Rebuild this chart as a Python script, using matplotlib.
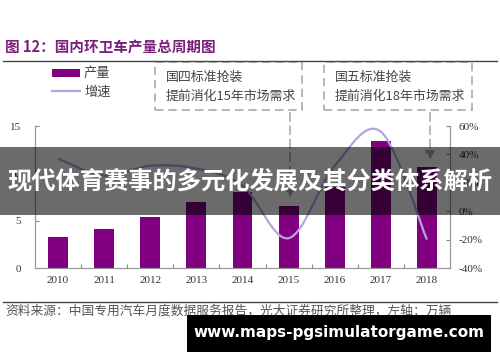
import matplotlib
matplotlib.use("Agg")
import matplotlib.pyplot as plt
from matplotlib.patches import Rectangle, FancyArrowPatch
from matplotlib.path import Path
from matplotlib.patches import PathPatch

years = ["2010", "2011", "2012", "2013", "2014", "2015", "2016", "2017", "2018"]
output = [3.3, 4.1, 5.4, 7.0, 8.0, 6.5, 8.6, 13.4, 10.7]      # 万辆
growth = [0.37, 0.25, 0.32, 0.30, 0.18, -0.19, 0.32, 0.56, -0.20]
left_ticks = [0, 5, 10, 15]
right_ticks = [-0.4, -0.2, 0.0, 0.2, 0.4, 0.6]

cjk = ["Noto Sans CJK SC", "DejaVu Sans"]
serif = ["Liberation Serif", "DejaVu Serif"]
purple = "#800080"
lavender = "#B8A2E3"
W, H = 500, 362


def fx(x):
    return x / W


def fy(y):
    return 1 - y / H


fig = plt.figure(figsize=(5, 3.62), dpi=100)
fig.patch.set_facecolor("white")
ax = fig.add_axes([fx(35), fy(268), fx(450) - fx(35), fy(126) - fy(268)])
ax2 = ax.twinx()

xs = list(range(len(years)))
ax.bar(xs, output, width=0.43, color=purple, zorder=2)
ax.set_xlim(-0.5, len(years) - 0.5)
ax.set_ylim(0, 15)
ax2.set_ylim(-0.4, 0.6)

# smooth growth line (catmull-rom drawn as bezier through the data points)
pts = list(zip(xs, growth))
verts = [pts[0]]
codes = [Path.MOVETO]
for i in range(len(pts) - 1):
    p0 = pts[i - 1] if i > 0 else pts[i]
    p1 = pts[i]
    p2 = pts[i + 1]
    p3 = pts[i + 2] if i + 2 < len(pts) else pts[i + 1]
    c1 = (p1[0] + (p2[0] - p0[0]) / 6, p1[1] + (p2[1] - p0[1]) / 6)
    c2 = (p2[0] - (p3[0] - p1[0]) / 6, p2[1] - (p3[1] - p1[1]) / 6)
    verts += [c1, c2, p2]
    codes += [Path.CURVE4] * 3
ax2.add_patch(PathPatch(Path(verts, codes), fill=False, edgecolor=lavender, lw=1.6, zorder=3))

ax.set_xticks([x + 0.5 for x in xs[:-1]])
ax.set_xticklabels([])
ax.set_xticks(xs, minor=True)
ax.set_xticklabels(years, minor=True, fontfamily=serif, fontsize=8, color="#333333")
ax.tick_params(axis="x", which="minor", length=0, pad=6)
ax.tick_params(axis="x", which="major", direction="in", length=3, color="#888888")
ax.set_yticks(left_ticks)
ax.set_yticklabels([str(t) for t in left_ticks], fontfamily=serif, fontsize=8, color="#333333")
ax.tick_params(axis="y", direction="in", length=3, color="#888888", pad=10)
ax2.set_yticks(right_ticks)
ax2.set_yticklabels(["%d%%" % round(t * 100) for t in right_ticks], fontfamily=serif,
                    fontsize=8, color="#333333")
ax2.tick_params(axis="y", direction="in", length=3, color="#888888", pad=6)
for a in (ax, ax2):
    a.spines["top"].set_visible(False)
    for s in ("left", "right", "bottom"):
        a.spines[s].set_color("#999999")
        a.spines[s].set_linewidth(0.8)

# title and rules
fig.text(fx(5), fy(48), "图 12：国内环卫车产量总周期图", fontfamily=cjk, fontsize=10.5,
         fontweight="bold", color="#7A1F7A", va="center")
fig.add_artist(plt.Line2D([fx(3), fx(497)], [fy(61), fy(61)], color="#444444", lw=1))
fig.add_artist(plt.Line2D([fx(3), fx(497)], [fy(302), fy(302)], color="#444444", lw=1))
fig.text(fx(5), fy(311), "资料来源：中国专用汽车月度数据服务报告，光大证券研究所整理，左轴：万辆",
         fontfamily=cjk, fontsize=9.2, color="#555555", va="center")

# legend
fig.add_artist(Rectangle((fx(52), fy(77)), fx(28), fy(69) - fy(77), transform=fig.transFigure,
                         facecolor=purple, edgecolor="none"))
fig.text(fx(84), fy(73), "产量", fontfamily=cjk, fontsize=9.5, color="#444444", va="center")
fig.add_artist(plt.Line2D([fx(52), fx(80)], [fy(91), fy(91)], color=lavender, lw=1.6))
fig.text(fx(84), fy(92), "增速", fontfamily=cjk, fontsize=9.5, color="#444444", va="center")

# dashed annotation boxes
boxes = [(155, 302, "国四标准抢装", "提前消化15年市场需求", 290, 200),
         (324, 472, "国五标准抢装", "提前消化18年市场需求", 430, 162)]
for x0, x1, l1, l2, ax_x, ay in boxes:
    fig.add_artist(Rectangle((fx(x0), fy(110)), fx(x1 - x0), fy(62) - fy(110),
                             transform=fig.transFigure, fill=False, edgecolor="#aaaaaa",
                             lw=1.2, linestyle=(0, (5, 3))))
    fig.text(fx(x0 + 11), fy(77), l1, fontfamily=cjk, fontsize=9.3, color="#444444", va="center")
    fig.text(fx(x0 + 11), fy(96), l2, fontfamily=cjk, fontsize=9.3, color="#444444", va="center")
    fig.add_artist(FancyArrowPatch((fx(ax_x), fy(110)), (fx(ax_x), fy(ay)),
                                   transform=fig.transFigure, arrowstyle="-|>,head_length=5,head_width=3",
                                   color="#aaaaaa", lw=1.2, linestyle=(0, (5, 3))))

# overlay banner
fig.add_artist(Rectangle((0, fy(215)), 1, fy(147) - fy(215), transform=fig.transFigure,
                         facecolor="black", alpha=0.58, edgecolor="none", zorder=10))
fig.text(0.5, fy(181), "现代体育赛事的多元化发展及其分类体系解析", fontfamily=cjk, fontsize=17.5,
         fontweight="bold", color="white", ha="center", va="center", zorder=11)

# watermark
fig.add_artist(Rectangle((fx(187), fy(352)), fx(304), fy(315) - fy(352), transform=fig.transFigure,
                         facecolor="black", edgecolor="none", zorder=10))
fig.text(fx(339), fy(333), "www.maps-pgsimulatorgame.com", fontfamily=["DejaVu Sans"], fontsize=11,
         fontweight="bold", color="white", ha="center", va="center", zorder=11)

fig.savefig("out.png", dpi=100)
